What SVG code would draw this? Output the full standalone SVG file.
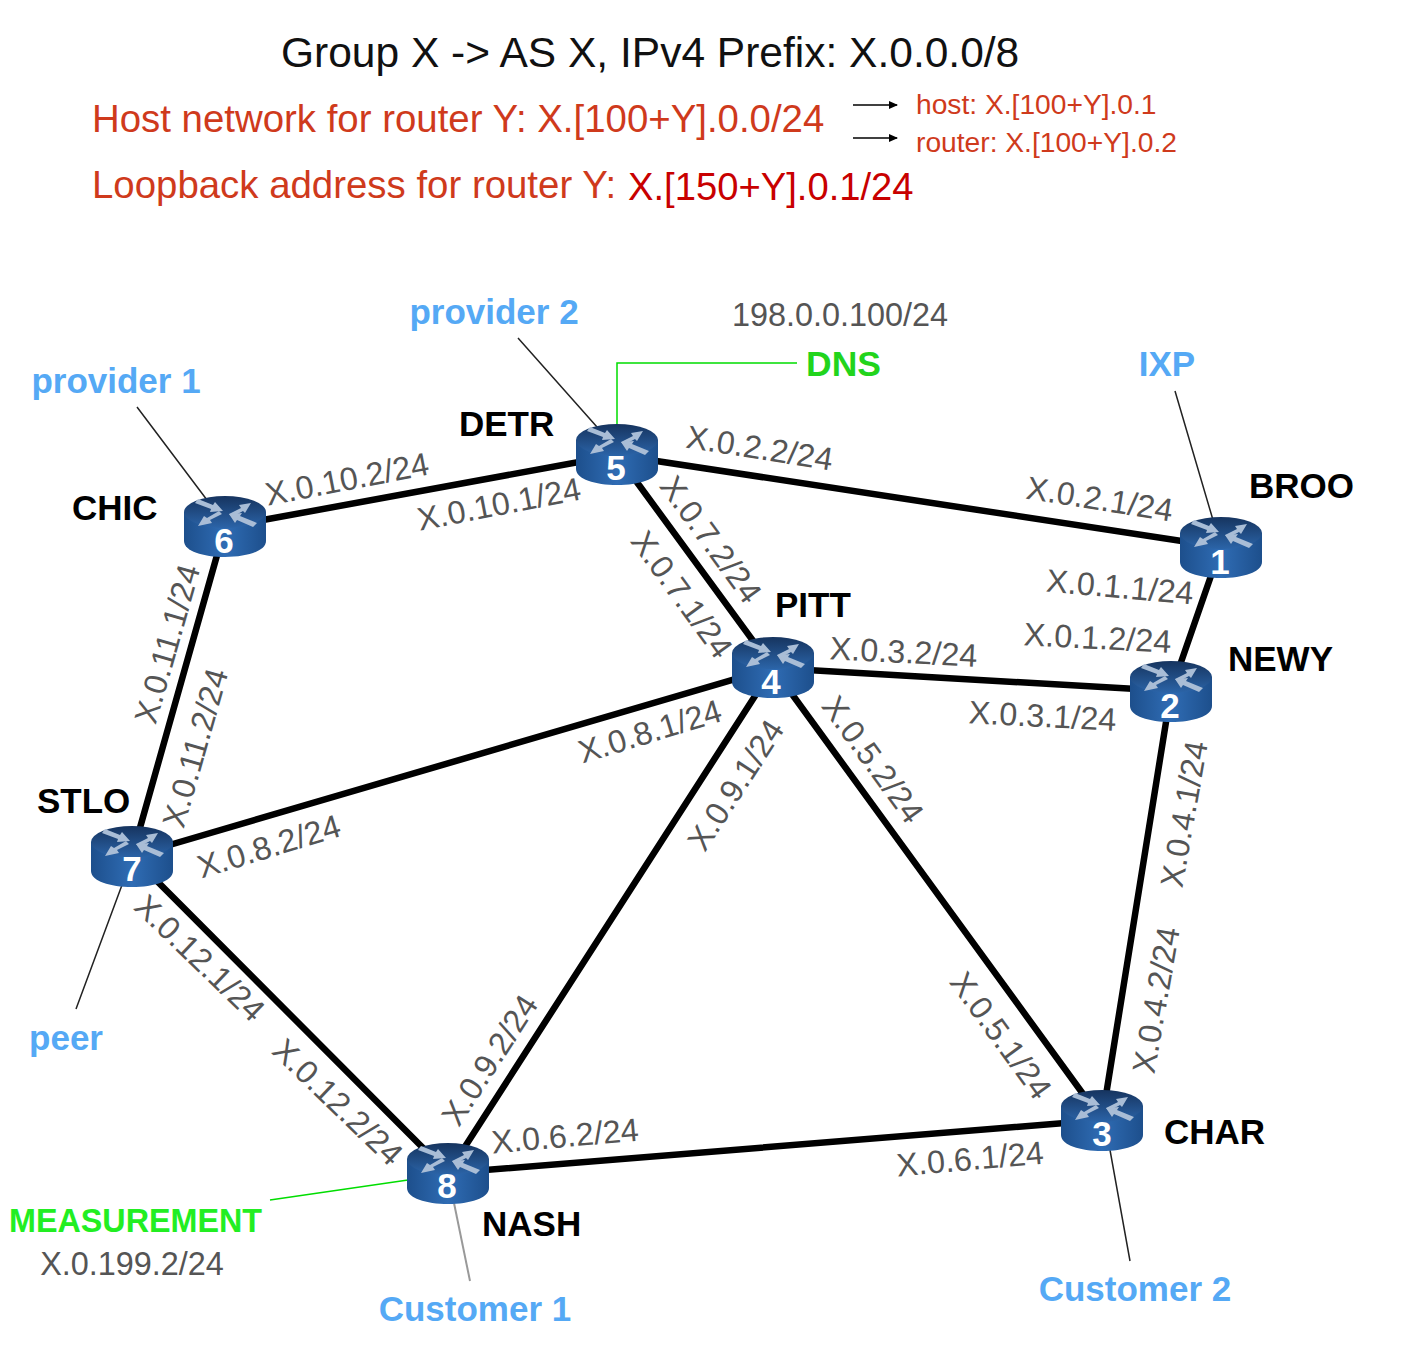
<svg xmlns="http://www.w3.org/2000/svg" width="1406" height="1354" viewBox="0 0 1406 1354">
<style>
text{font-family:"Liberation Sans",Arial,sans-serif}
.e{stroke:#000;stroke-width:6.5;fill:none}
.t{stroke:#222;stroke-width:1.5;fill:none}
.g{stroke:#00dd00;stroke-width:1.5;fill:none}
.l{font-size:32.4px;fill:#555;text-anchor:middle}
.n{font-size:35px;font-weight:bold;fill:#000}
.b{font-size:35px;font-weight:bold;fill:#55a9f5;text-anchor:middle}
.r{fill:#cf3a1c}
.num{font-size:35px;font-weight:bold;fill:#fff;text-anchor:middle}
.ar{fill:#a9bdd6}
</style>
<defs>
<linearGradient id="side" x1="0" x2="1" y1="0" y2="0"><stop offset="0" stop-color="#1d4f8c"/><stop offset=".5" stop-color="#2f6cb4"/><stop offset="1" stop-color="#1d4f8c"/></linearGradient>
<linearGradient id="top" x1="0" x2="0" y1="0" y2="1"><stop offset="0" stop-color="#16345f"/><stop offset="1" stop-color="#2b64a8"/></linearGradient>
<g id="router">
<path d="M-41 -11V18C-41 28 -22 34 0 34S41 28 41 18V-11Z" fill="url(#side)"/>
<ellipse cx="0" cy="-11" rx="41" ry="16" fill="url(#top)"/>
<path class="ar" d="M-27 -24L-12 -18L-10 -21L-2 -12L-15 -11L-14 -14L-30 -20Z"/>
<path class="ar" d="M4 -9L16 -15L14 -18L26 -20L20 -10L18 -12L7 -6Z"/>
<path class="ar" d="M-3 -9L-15 -3L-13 0L-27 3L-21 -7L-18 -5L-6 -12Z"/>
<path class="ar" d="M32 0L15 -7L17 -10L4 -9L10 0L12 -3L28 4Z"/>
</g>
<marker id="a" markerWidth="9" markerHeight="8" refX="8" refY="4" orient="auto" markerUnits="userSpaceOnUse"><path d="M0 0L9 4L0 8Z" fill="#000"/></marker>
</defs>
<g id="header">
<text x="281" y="67" font-size="42.5" fill="#111">Group X -&gt; AS X, IPv4 Prefix: X.0.0.0/8</text>
<text class="r" x="92" y="132" font-size="38.4">Host network for router Y: X.[100+Y].0.0/24</text>
<text class="r" x="92" y="198" font-size="38.4">Loopback address for router Y:</text>
<text x="628" y="200" font-size="38.2" fill="#c80000">X.[150+Y].0.1/24</text>
<text class="r" x="916" y="114" font-size="28.2">host: X.[100+Y].0.1</text>
<text class="r" x="916" y="152" font-size="28.2">router: X.[100+Y].0.2</text>
<path d="M853 105H897" stroke="#000" stroke-width="1.5" marker-end="url(#a)"/>
<path d="M853 138H897" stroke="#000" stroke-width="1.5" marker-end="url(#a)"/>
</g>
<g id="connectors">
<path class="e" d="M225 527L617 455M617 455L1221 547M617 455L773 668M225 527L132 856M132 856L773 668M773 668L1171 691M1221 547L1171 691M1171 691L1102 1120M773 668L1102 1120M773 668L448 1173M132 856L448 1173M448 1173L1102 1120"/>
<path class="t" d="M137 407L207 500M518 338L597 427M1175 391L1213 520M122 885L76 1009M1110 1150L1130 1261"/>
<path d="M454 1203L470 1281" stroke="#999" stroke-width="2" fill="none"/>
<path class="g" d="M617 425V363H797M408 1180L270 1200"/>
</g>
<g id="r1"><use href="#router" x="1221" y="544"/><text class="num" x="1220" y="574">1</text><text class="n" x="1249" y="498">BROO</text></g>
<g id="r2"><use href="#router" x="1171" y="688"/><text class="num" x="1170" y="718">2</text><text class="n" x="1228" y="671">NEWY</text></g>
<g id="r3"><use href="#router" x="1102" y="1117"/><text class="num" x="1102" y="1146">3</text><text class="n" x="1164" y="1144">CHAR</text></g>
<g id="r4"><use href="#router" x="773" y="664"/><text class="num" x="771" y="694">4</text><text class="n" x="775" y="617">PITT</text></g>
<g id="r5"><use href="#router" x="617" y="451"/><text class="num" x="616" y="480">5</text><text class="n" x="459" y="436">DETR</text></g>
<g id="r6"><use href="#router" x="225" y="523"/><text class="num" x="224" y="553">6</text><text class="n" x="72" y="520">CHIC</text></g>
<g id="r7"><use href="#router" x="132" y="853"/><text class="num" x="132" y="881">7</text><text class="n" x="37" y="813">STLO</text></g>
<g id="r8"><use href="#router" x="448" y="1170"/><text class="num" x="447" y="1198">8</text><text class="n" x="482" y="1236">NASH</text></g>
<g id="labels">
<text class="l" transform="translate(349 490) rotate(-11)">X.0.10.2/24</text>
<text class="l" transform="translate(501 515) rotate(-11)">X.0.10.1/24</text>
<text class="l" transform="translate(758 459) rotate(9)">X.0.2.2/24</text>
<text class="l" transform="translate(1098 510) rotate(9)">X.0.2.1/24</text>
<text class="l" transform="translate(702 546) rotate(54)">X.0.7.2/24</text>
<text class="l" transform="translate(673 601) rotate(54)">X.0.7.1/24</text>
<text class="l" transform="translate(903 663) rotate(3)">X.0.3.2/24</text>
<text class="l" transform="translate(1042 727) rotate(3)">X.0.3.1/24</text>
<text class="l" transform="translate(1119 598) rotate(5)">X.0.1.1/24</text>
<text class="l" transform="translate(1097 649) rotate(3)">X.0.1.2/24</text>
<text class="l" transform="translate(178 647) rotate(-74)">X.0.11.1/24</text>
<text class="l" transform="translate(206 751) rotate(-74)">X.0.11.2/24</text>
<text class="l" transform="translate(653 742) rotate(-17)">X.0.8.1/24</text>
<text class="l" transform="translate(272 857) rotate(-17)">X.0.8.2/24</text>
<text class="l" transform="translate(745 791) rotate(-57)">X.0.9.1/24</text>
<text class="l" transform="translate(499 1066) rotate(-57)">X.0.9.2/24</text>
<text class="l" transform="translate(864 766) rotate(54)">X.0.5.2/24</text>
<text class="l" transform="translate(992 1042) rotate(54)">X.0.5.1/24</text>
<text class="l" transform="translate(1195 816) rotate(-80)">X.0.4.1/24</text>
<text class="l" transform="translate(1167 1002) rotate(-80)">X.0.4.2/24</text>
<text class="l" transform="translate(192 966) rotate(44)">X.0.12.1/24</text>
<text class="l" transform="translate(330 1110) rotate(44)">X.0.12.2/24</text>
<text class="l" transform="translate(566 1147) rotate(-5)">X.0.6.2/24</text>
<text class="l" transform="translate(971 1170) rotate(-5)">X.0.6.1/24</text>
<text class="l" x="840" y="326">198.0.0.100/24</text>
<text class="l" x="132" y="1275">X.0.199.2/24</text>
</g>
<g id="external">
<text class="b" x="116" y="393">provider 1</text>
<text class="b" x="494" y="324">provider 2</text>
<text class="b" x="1167" y="376">IXP</text>
<text class="b" x="66" y="1050">peer</text>
<text class="b" x="475" y="1321">Customer 1</text>
<text class="b" x="1135" y="1301">Customer 2</text>
<text x="806" y="376" font-size="35.5" font-weight="bold" fill="#22d41c">DNS</text>
<text x="9" y="1232" font-size="32.3" font-weight="bold" fill="#22ee22">MEASUREMENT</text>
</g>
</svg>
